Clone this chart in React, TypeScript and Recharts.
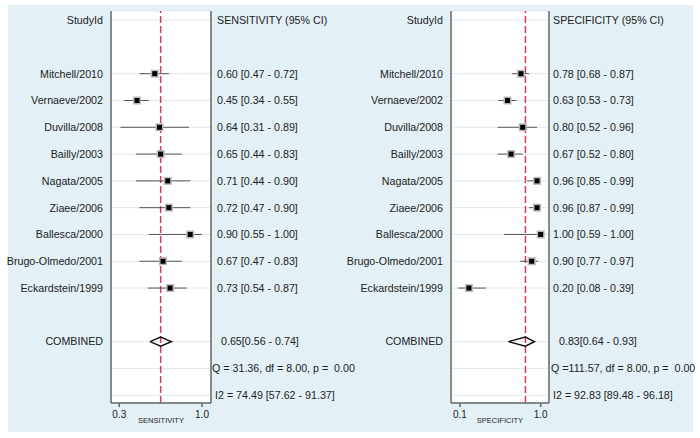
import React from 'react'
import {
  ScatterChart,
  Scatter,
  XAxis,
  YAxis,
  CartesianGrid,
  ReferenceLine,
  ErrorBar,
} from 'recharts'

const studies = [
  'Mitchell/2010',
  'Vernaeve/2002',
  'Duvilla/2008',
  'Bailly/2003',
  'Nagata/2005',
  'Ziaee/2006',
  'Ballesca/2000',
  'Brugo-Olmedo/2001',
  'Eckardstein/1999',
]

const sens = [0.6, 0.45, 0.64, 0.65, 0.71, 0.72, 0.9, 0.67, 0.73]
const sensLo = [0.47, 0.34, 0.31, 0.44, 0.44, 0.47, 0.55, 0.47, 0.54]
const sensHi = [0.72, 0.55, 0.89, 0.83, 0.9, 0.9, 1.0, 0.83, 0.87]
const sensCombined = [0.65, 0.56, 0.74]

const spec = [0.78, 0.63, 0.8, 0.67, 0.96, 0.96, 1.0, 0.9, 0.2]
const specLo = [0.68, 0.53, 0.52, 0.52, 0.85, 0.87, 0.59, 0.77, 0.08]
const specHi = [0.87, 0.73, 0.96, 0.8, 0.99, 0.99, 1.0, 0.97, 0.39]
const specCombined = [0.83, 0.64, 0.93]

const sensStats = ['Q = 31.36, df = 8.00, p =  0.00', 'I2 = 74.49 [57.62 - 91.37]']
const specStats = ['Q =111.57, df = 8.00, p =  0.00', 'I2 = 92.83 [89.48 - 96.18]']

const sensTicks = [0.3, 1.0]
const specTicks = [0.1, 1.0]

// row layout: 0 header, 1 blank, 2..10 studies, 11 blank, 12 combined, 13 Q, 14 I2
const FIRST_STUDY_ROW = 2
const COMBINED_ROW = 12
const ROW_TICKS = [0, ...studies.map((_, i) => i + FIRST_STUDY_ROW), COMBINED_ROW, COMBINED_ROW + 1, COMBINED_ROW + 2]

const FONT = '"Liberation Sans", Arial, sans-serif'
const TEXT = '#222'
const fmt = (v: number) => v.toFixed(2)

type PanelProps = {
  left: number
  header: string
  axisTitle: string
  est: number[]
  lo: number[]
  hi: number[]
  combined: number[]
  stats: string[]
  xDomain: [number, number]
  xTicks: number[]
  margin: { top: number; right: number; bottom: number; left: number }
  rightWidth: number
  rightGap: number
  statOffsets: Record<number, number>
}

function RowTick(props: any) {
  const { x, y, payload, labels, anchor, offsets } = props
  const dx = offsets ? offsets[payload.value] ?? 0 : 0
  return (
    <text
      x={x + dx}
      y={y}
      dy="0.36em"
      textAnchor={anchor}
      fontSize={10.7}
      fontFamily={FONT}
      fill={TEXT}
      style={{ whiteSpace: 'pre' }}
    >
      {labels[payload.value] ?? ''}
    </text>
  )
}

function Marker(props: any) {
  const { cx, cy } = props
  if (cx == null || cy == null) return <g />
  return (
    <g>
      <rect x={cx - 4} y={cy - 4} width={8} height={8} fill="#b9b9b9" />
      <rect x={cx - 2.5} y={cy - 2.5} width={5} height={5} fill="#000" />
    </g>
  )
}

function ForestPanel({
  left,
  header,
  axisTitle,
  est,
  lo,
  hi,
  combined,
  stats,
  xDomain,
  xTicks,
  margin,
  rightWidth,
  rightGap,
  statOffsets,
}: PanelProps) {
  const points = est.map((v, i) => ({
    x: v,
    y: i + FIRST_STUDY_ROW,
    err: [v - lo[i], hi[i] - v],
  }))

  const [cEst, cLo, cHi] = combined
  const half = 0.17
  const diamond = [
    { x: cLo, y: COMBINED_ROW },
    { x: cEst, y: COMBINED_ROW - half },
    { x: cHi, y: COMBINED_ROW },
    { x: cEst, y: COMBINED_ROW + half },
    { x: cLo, y: COMBINED_ROW },
  ]

  const leftLabels: Record<number, string> = { 0: 'StudyId', [COMBINED_ROW]: 'COMBINED' }
  const rightLabels: Record<number, string> = {
    0: header,
    [COMBINED_ROW]: `${fmt(cEst)}[${fmt(cLo)} - ${fmt(cHi)}]`,
    [COMBINED_ROW + 1]: stats[0],
    [COMBINED_ROW + 2]: stats[1],
  }
  studies.forEach((s, i) => {
    leftLabels[i + FIRST_STUDY_ROW] = s
    rightLabels[i + FIRST_STUDY_ROW] = `${fmt(est[i])} [${fmt(lo[i])} - ${fmt(hi[i])}]`
  })

  const yDomain: [number, number] = [-0.34, 14.29]

  return (
    <div style={{ position: 'absolute', left, top: 0 }}>
      <ScatterChart width={350} height={438} margin={margin} style={{ overflow: 'visible' }}>
        <CartesianGrid horizontal vertical={false} fill="#fff" stroke="#dde9ef" strokeWidth={1} />
        <XAxis
          type="number"
          dataKey="x"
          domain={xDomain}
          ticks={xTicks}
          allowDataOverflow
          height={35}
          tickFormatter={(v: number) => v.toFixed(1)}
          stroke="#666"
          strokeWidth={1.5}
          tickSize={4}
          tickMargin={4}
          tick={{ fill: TEXT, fontSize: 10, fontFamily: FONT }}
          label={{ value: axisTitle, position: 'insideBottom', offset: 15, fontSize: 7.5, fill: TEXT, fontFamily: FONT }}
        />
        <YAxis
          type="number"
          dataKey="y"
          domain={yDomain}
          reversed
          allowDataOverflow
          ticks={ROW_TICKS}
          interval={0}
          width={100}
          tickLine={false}
          tickSize={0}
          tickMargin={8}
          stroke="#666"
          strokeWidth={1.5}
          tick={(p: any) => <RowTick {...p} labels={leftLabels} anchor="end" />}
        />
        <YAxis
          yAxisId="r"
          orientation="right"
          type="number"
          domain={yDomain}
          reversed
          allowDataOverflow
          ticks={ROW_TICKS}
          interval={0}
          width={rightWidth}
          tickLine={false}
          tickSize={0}
          tickMargin={rightGap}
          stroke="#666"
          strokeWidth={1.5}
          tick={(p: any) => <RowTick {...p} labels={rightLabels} anchor="start" offsets={statOffsets} />}
        />
        <ReferenceLine x={cEst} stroke="#d93a55" strokeWidth={1.5} strokeDasharray="7 3" ifOverflow="extendDomain" />
        <Scatter data={points} shape={<Marker />} isAnimationActive={false}>
          <ErrorBar dataKey="err" direction="x" width={0} stroke="#555" strokeWidth={1} />
        </Scatter>
        <Scatter
          data={diamond}
          line={{ stroke: '#111', strokeWidth: 1.5 }}
          shape={() => <g />}
          isAnimationActive={false}
        />
      </ScatterChart>
    </div>
  )
}

export default function App() {
  return (
    <div style={{ position: 'absolute', left: 0, top: 0, width: 700, height: 438, background: '#fff' }}>
      <style>{'.recharts-surface, .recharts-wrapper { overflow: visible !important; }'}</style>
      <div style={{ position: 'absolute', left: 8, top: 5, width: 685, height: 427, background: '#e3f0f6' }} />
      <ForestPanel
        left={0}
        header="SENSITIVITY (95% CI)"
        axisTitle="SENSITIVITY"
        est={sens}
        lo={sensLo}
        hi={sensHi}
        combined={sensCombined}
        stats={sensStats}
        xDomain={[0.23, 1.076]}
        xTicks={sensTicks}
        margin={{ top: 11, right: 9, bottom: 0, left: 11 }}
        rightWidth={130}
        rightGap={6}
        statOffsets={{ [COMBINED_ROW]: 4, [COMBINED_ROW + 1]: -5, [COMBINED_ROW + 2]: -2 }}
      />
      <ForestPanel
        left={350}
        header="SPECIFICITY (95% CI)"
        axisTitle="SPECIFICITY"
        est={spec}
        lo={specLo}
        hi={specHi}
        combined={specCombined}
        stats={specStats}
        xDomain={[0, 1.093]}
        xTicks={specTicks}
        margin={{ top: 11, right: 11, bottom: 0, left: 1 }}
        rightWidth={140}
        rightGap={4}
        statOffsets={{ [COMBINED_ROW]: 6, [COMBINED_ROW + 1]: -2, [COMBINED_ROW + 2]: 0 }}
      />
    </div>
  )
}
